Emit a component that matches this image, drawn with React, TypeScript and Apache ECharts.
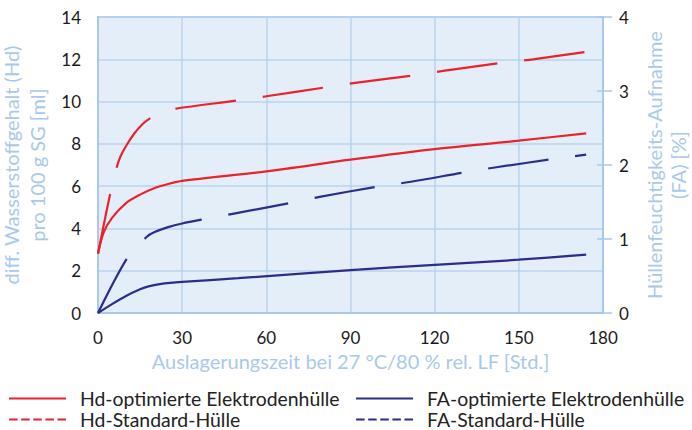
import React, { useEffect, useRef } from "react";
import * as echarts from "echarts";

const xTicks = [0, 30, 60, 90, 120, 150, 180];
const hdOptimiert: [number, number][] = [
  [0, 2.8], [2, 3.8], [5, 4.5], [10, 5.2], [15, 5.6], [20, 5.9], [25, 6.1],
  [30, 6.25], [60, 6.7], [90, 7.25], [120, 7.75], [150, 8.15], [174, 8.5],
];
const hdStandard: [number, number][] = [
  [0, 2.8], [4.3, 5.6], [6.7, 6.9], [8, 7.4], [10, 7.9], [13, 8.5], [16, 8.95],
  [19, 9.25], [22, 9.45], [25, 9.58], [28, 9.67], [50, 10.06], [60, 10.25],
  [81, 10.67], [91, 10.87], [113, 11.25], [123, 11.45], [145, 11.85], [155, 12.0], [174, 12.35],
];
const faOptimiert: [number, number][] = [
  [0, 0], [5, 0.12], [10, 0.23], [15, 0.32], [18, 0.36], [22, 0.39], [30, 0.42],
  [50, 0.47], [90, 0.58], [120, 0.65], [150, 0.72], [174, 0.79],
];
const faStandard: [number, number][] = [
  [0, 0], [10.7, 0.76], [17.4, 1.03], [20, 1.09], [25, 1.16], [30, 1.21], [38, 1.27],
  [48, 1.34], [69, 1.49], [79, 1.57], [100, 1.71], [111, 1.77], [132, 1.91],
  [142, 1.97], [164, 2.09], [174, 2.14],
];

const names = [
  "Hd-optimierte Elektrodenhülle",
  "Hd-Standard-Hülle",
  "FA-optimierte Elektrodenhülle",
  "FA-Standard-Hülle",
];

const RED = "#e8232b";
const BLUE = "#2b2d8a";
const LIGHT = "#a9c9ea";
const FONT = "Lato";
const DASH = [61, 27];
const LEGEND_DASH = [8.5, 3.6];

export default function App() {
  const ref = useRef<HTMLDivElement>(null);
  useEffect(() => {
    const chart = echarts.init(ref.current!, null, { renderer: "svg" });
    const hidden = { color: "transparent", borderColor: "transparent", borderWidth: 0 };
    const legendCommon = {
      orient: "horizontal" as const,
      itemWidth: 57,
      itemHeight: 14,
      padding: 0,
      textStyle: { color: "#222", fontSize: 19.4, lineHeight: 18, fontFamily: FONT, padding: [0, 0, 0, 9] },
    };
    chart.setOption({
      animation: false,
      textStyle: { fontFamily: FONT },
      grid: {
        left: 98, right: 89, top: 17, bottom: 117,
        outerBoundsMode: "none", containLabel: false,
        show: true, backgroundColor: "#e4eef8", borderColor: LIGHT, borderWidth: 2,
      },
      legend: [
        { ...legendCommon, left: 8, top: 389, data: [{ name: names[0], itemStyle: hidden }] },
        { ...legendCommon, left: 8, top: 410, data: [{ name: names[1], itemStyle: hidden,
          lineStyle: { type: LEGEND_DASH, width: 2.2, color: RED, dashOffset: 0 } }] },
        { ...legendCommon, left: 355, top: 389, data: [{ name: names[2], itemStyle: hidden }] },
        { ...legendCommon, left: 355, top: 410, data: [{ name: names[3], itemStyle: hidden,
          lineStyle: { type: LEGEND_DASH, width: 2.2, color: BLUE, dashOffset: 0 } }] },
      ],
      xAxis: {
        type: "value", min: 0, max: 180, interval: 30,
        name: "Auslagerungszeit bei 27 °C/80 % rel. LF [Std.]",
        nameLocation: "middle", nameGap: 38,
        nameTextStyle: { color: LIGHT, fontSize: 20, fontFamily: FONT },
        axisLine: { show: true, lineStyle: { color: LIGHT, width: 2 } },
        axisTick: { show: false },
        axisLabel: { color: "#1a1a1a", fontSize: 17, margin: 16, fontFamily: FONT,
          customValues: xTicks },
        splitLine: { show: true, lineStyle: { color: "#b9d3ee", width: 1.5 } },
      },
      yAxis: [
        {
          type: "value", min: 0, max: 14, interval: 2, position: "left",
          name: "diff. Wasserstoffgehalt (Hd)\npro 100 g SG [ml]",
          nameLocation: "middle", nameGap: 43, nameRotate: 90,
          nameTextStyle: { color: LIGHT, fontSize: 20, fontFamily: FONT, lineHeight: 26 },
          axisLine: { show: true, lineStyle: { color: LIGHT, width: 2 } },
          axisTick: { show: false },
          axisLabel: { color: "#1a1a1a", fontSize: 17, margin: 17, fontFamily: FONT },
          splitLine: { show: true, lineStyle: { color: "#b9d3ee", width: 1.5 } },
        },
        {
          type: "value", min: 0, max: 4, interval: 1, position: "right",
          name: "Hüllenfeuchtigkeits-Aufnahme\n(FA) [%]",
          nameLocation: "middle", nameGap: 39, nameRotate: 90,
          nameTextStyle: { color: LIGHT, fontSize: 20, fontFamily: FONT, lineHeight: 24 },
          axisLine: { show: true, lineStyle: { color: LIGHT, width: 2 } },
          axisTick: { show: true, length: 9, lineStyle: { color: LIGHT, width: 1.5 } },
          axisLabel: { color: "#1a1a1a", fontSize: 17, margin: 16, fontFamily: FONT },
          splitLine: { show: false },
        },
        {
          type: "value", min: 0, max: 4, interval: 1, position: "right",
          axisLine: { show: false },
          axisTick: { show: true, inside: true, length: 6, lineStyle: { color: LIGHT, width: 1.5 } },
          axisLabel: { show: false },
          splitLine: { show: false },
        },
      ],
      series: [
        { name: names[0], type: "line", yAxisIndex: 0, data: hdOptimiert, smooth: 0.3,
          symbol: "none", lineStyle: { color: RED, width: 2.2 }, itemStyle: { color: RED } },
        { name: names[1], type: "line", yAxisIndex: 0, data: hdStandard, smooth: 0.3,
          symbol: "none", lineStyle: { color: RED, width: 2.2, type: DASH, dashOffset: 0 }, itemStyle: { color: RED } },
        { name: names[2], type: "line", yAxisIndex: 1, data: faOptimiert, smooth: 0.3,
          symbol: "none", lineStyle: { color: BLUE, width: 2.2 }, itemStyle: { color: BLUE } },
        { name: names[3], type: "line", yAxisIndex: 1, data: faStandard, smooth: 0.3,
          symbol: "none", lineStyle: { color: BLUE, width: 2.2, type: DASH, dashOffset: 0 }, itemStyle: { color: BLUE } },
      ],
    });
    return () => chart.dispose();
  }, []);
  return (
    <div
      ref={ref}
      style={{ position: "fixed", left: 0, top: 0, width: 692, height: 430, background: "#fff" }}
    />
  );
}
